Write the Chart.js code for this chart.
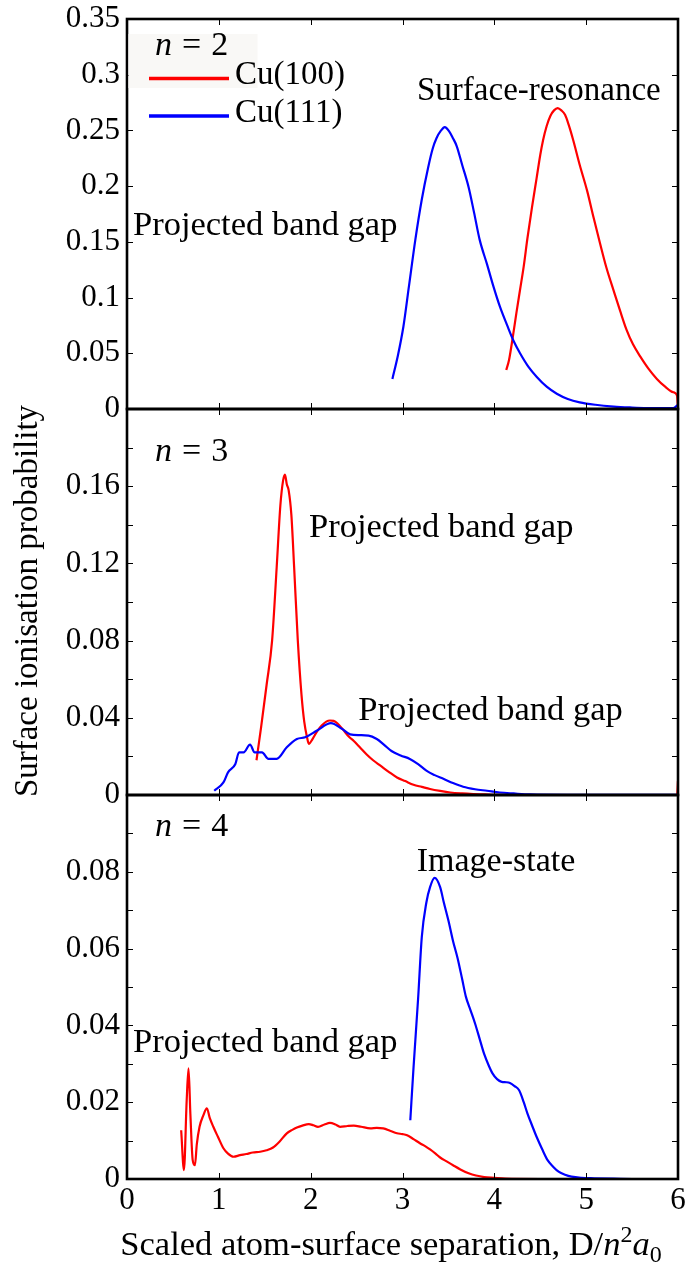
<!DOCTYPE html>
<html>
<head>
<meta charset="utf-8">
<script src="https://cdn.jsdelivr.net/npm/chart.js@4.4.1/dist/chart.umd.min.js"></script>
<style>
html, body { margin: 0; padding: 0; background: #fff; }
#wrap { position: relative; width: 689px; height: 1265px; overflow: hidden; background: #fff; }
canvas { position: absolute; left: 0; }
</style>
</head>
<body>
<div id="wrap">
  <canvas id="c1" width="689" height="425" style="top:0px"></canvas>
  <canvas id="c2" width="689" height="418" style="top:393px"></canvas>
  <canvas id="c3" width="689" height="486" style="top:779px"></canvas>
</div>
<script>
// ---------------- data ----------------
const xTickValues = [0, 1, 2, 3, 4, 5, 6];
const xTickLabels = ['0', '1', '2', '3', '4', '5', '6'];

const yTicks1  = [0, 0.05, 0.1, 0.15, 0.2, 0.25, 0.3, 0.35];
const yLabels1 = ['0', '0.05', '0.1', '0.15', '0.2', '0.25', '0.3', '0.35'];
const yMarks1  = [0, 0.05, 0.1, 0.15, 0.2, 0.25, 0.3, 0.35];

const yTicks2  = [0, 0.04, 0.08, 0.12, 0.16];
const yLabels2 = ['0', '0.04', '0.08', '0.12', '0.16'];
const yMarks2  = [0, 0.02, 0.04, 0.06, 0.08, 0.10, 0.12, 0.14, 0.16, 0.18, 0.20];

const yTicks3  = [0, 0.02, 0.04, 0.06, 0.08];
const yLabels3 = ['0', '0.02', '0.04', '0.06', '0.08'];
const yMarks3  = [0, 0.01, 0.02, 0.03, 0.04, 0.05, 0.06, 0.07, 0.08, 0.09, 0.10];

const seriesNames = ['Cu(100)', 'Cu(111)'];

// n = 2
const n2Cu111X = [2.89, 2.95, 3.01, 3.07, 3.14, 3.21, 3.28, 3.33, 3.37, 3.42, 3.46, 3.51, 3.55, 3.59, 3.65, 3.72, 3.78, 3.84, 3.92, 3.99, 4.06, 4.14, 4.21, 4.28, 4.37, 4.46, 4.57, 4.68, 4.80, 4.93, 5.10, 5.30, 5.50, 5.66, 5.80, 5.95, 6.0];
const n2Cu111Y = [0.027, 0.048, 0.074, 0.110, 0.152, 0.188, 0.217, 0.234, 0.243, 0.250, 0.253, 0.249, 0.243, 0.236, 0.219, 0.199, 0.176, 0.152, 0.130, 0.110, 0.092, 0.075, 0.061, 0.050, 0.038, 0.029, 0.020, 0.0137, 0.009, 0.006, 0.0038, 0.0022, 0.0013, 0.0008, 0.0007, 0.0007, 0.004];
const n2Cu100X = [4.13, 4.16, 4.20, 4.24, 4.28, 4.32, 4.36, 4.41, 4.46, 4.50, 4.53, 4.57, 4.61, 4.65, 4.69, 4.73, 4.77, 4.81, 4.86, 4.93, 5.01, 5.08, 5.15, 5.22, 5.30, 5.37, 5.44, 5.51, 5.59, 5.68, 5.77, 5.86, 5.95, 5.99, 6.0];
const n2Cu100Y = [0.035, 0.044, 0.064, 0.086, 0.107, 0.128, 0.153, 0.181, 0.207, 0.228, 0.241, 0.254, 0.263, 0.268, 0.270, 0.268, 0.264, 0.255, 0.241, 0.219, 0.196, 0.172, 0.149, 0.127, 0.106, 0.088, 0.071, 0.058, 0.047, 0.036, 0.027, 0.020, 0.015, 0.012, 0.0];

// n = 3
const n3Cu111X = [0.95, 1.05, 1.10, 1.18, 1.22, 1.27, 1.34, 1.39, 1.47, 1.54, 1.63, 1.74, 1.85, 1.94, 2.07, 2.22, 2.34, 2.43, 2.53, 2.63, 2.72, 2.80, 2.88, 2.98, 3.08, 3.17, 3.26, 3.35, 3.45, 3.55, 3.66, 3.79, 3.92, 4.06, 4.21, 4.39, 4.8, 5.4, 6.0];
const n3Cu111Y = [0.0022, 0.0065, 0.0117, 0.0161, 0.0221, 0.0221, 0.0261, 0.0221, 0.0221, 0.0187, 0.0187, 0.0247, 0.0290, 0.0299, 0.0334, 0.0372, 0.0343, 0.0314, 0.0310, 0.0308, 0.0290, 0.0260, 0.0228, 0.0205, 0.0187, 0.0160, 0.0126, 0.0103, 0.0083, 0.0062, 0.0043, 0.0030, 0.0022, 0.0013, 0.0008, 0.0003, 0.0001, 0.0001, 0.0001];
const n3Cu100X = [1.41, 1.46, 1.52, 1.58, 1.63, 1.67, 1.70, 1.72, 1.74, 1.76, 1.79, 1.82, 1.86, 1.90, 1.93, 1.96, 1.98, 2.02, 2.07, 2.12, 2.17, 2.21, 2.25, 2.29, 2.35, 2.42, 2.47, 2.54, 2.61, 2.68, 2.76, 2.85, 2.94, 3.03, 3.12, 3.21, 3.30, 3.41, 3.52, 3.65, 3.77, 3.90, 4.0, 4.5, 5.0, 5.5, 5.99, 6.0];
const n3Cu100Y = [0.018, 0.035, 0.057, 0.080, 0.118, 0.150, 0.163, 0.166, 0.161, 0.158, 0.145, 0.118, 0.080, 0.052, 0.038, 0.030, 0.0265, 0.029, 0.033, 0.036, 0.038, 0.0386, 0.0384, 0.0372, 0.034, 0.030, 0.028, 0.0245, 0.021, 0.018, 0.0152, 0.012, 0.0091, 0.0072, 0.0053, 0.0042, 0.0031, 0.0021, 0.0013, 0.0008, 0.0005, 0.0003, 0.0001, 0, 0, 0, 0, 0.0074];

// n = 4
const n4Cu111X = [3.085, 3.12, 3.17, 3.21, 3.26, 3.30, 3.35, 3.41, 3.45, 3.50, 3.55, 3.60, 3.65, 3.69, 3.74, 3.79, 3.84, 3.89, 3.94, 3.98, 4.03, 4.08, 4.13, 4.17, 4.22, 4.27, 4.32, 4.36, 4.41, 4.46, 4.52, 4.58, 4.64, 4.70, 4.77, 4.84, 4.95, 5.09, 5.3, 5.6, 6.0];
const n4Cu111Y = [0.0153, 0.029, 0.047, 0.063, 0.072, 0.076, 0.0784, 0.076, 0.072, 0.0673, 0.062, 0.0575, 0.052, 0.0475, 0.044, 0.0405, 0.0365, 0.0325, 0.0295, 0.0275, 0.026, 0.0253, 0.0252, 0.025, 0.0242, 0.0231, 0.0200, 0.0171, 0.014, 0.011, 0.0078, 0.0049, 0.0032, 0.0019, 0.0011, 0.0006, 0.0003, 0.0002, 0.0001, 0, 0];
const n4Cu100X = [0.59, 0.62, 0.65, 0.67, 0.69, 0.715, 0.74, 0.76, 0.79, 0.83, 0.87, 0.90, 0.94, 0.99, 1.05, 1.10, 1.16, 1.23, 1.30, 1.37, 1.45, 1.52, 1.59, 1.66, 1.74, 1.80, 1.85, 1.91, 1.98, 2.03, 2.08, 2.15, 2.21, 2.27, 2.32, 2.40, 2.47, 2.55, 2.65, 2.72, 2.79, 2.87, 2.94, 3.00, 3.05, 3.12, 3.19, 3.25, 3.30, 3.36, 3.41, 3.48, 3.55, 3.63, 3.72, 3.80, 3.89, 4.00, 4.12, 4.5, 5.0];
const n4Cu100Y = [0.0127, 0.0023, 0.0205, 0.0288, 0.017, 0.005, 0.0036, 0.009, 0.0136, 0.0165, 0.0184, 0.016, 0.0136, 0.011, 0.008, 0.0066, 0.0058, 0.0062, 0.0065, 0.0069, 0.0071, 0.0075, 0.0082, 0.0097, 0.0119, 0.0128, 0.0134, 0.0139, 0.0143, 0.014, 0.0136, 0.0142, 0.0146, 0.0142, 0.0136, 0.0138, 0.0139, 0.0136, 0.0132, 0.0133, 0.0132, 0.0125, 0.0119, 0.0117, 0.0114, 0.0104, 0.0093, 0.0085, 0.0077, 0.0066, 0.0056, 0.0046, 0.0036, 0.0025, 0.0015, 0.0009, 0.0005, 0.0003, 0.0001, 0, 0];

// ---------------- styling / layout ----------------
const FONT = "'Liberation Serif', 'Times New Roman', serif";
const RED = '#ff0000';
const BLUE = '#0000ff';

const panels = [
  { id: 'c1', label: '2', yMax: 0.35, yTicks: yTicks1, yLabels: yLabels1, yMarks: yMarks1,
    padding: { top: 19, bottom: 16, left: 0, right: 11 },
    red: [n2Cu100X, n2Cu100Y], blue: [n2Cu111X, n2Cu111Y],
    nPos: [0.305, 0.318],
    notes: [ { t: 'Projected band gap', x: 0.065, y: 0.156, s: 34.5 }, { t: 'Surface-resonance', x: 3.158, y: 0.277, s: 33 } ],
    legend: true },
  { id: 'c2', label: '3', yMax: 0.2, yTicks: yTicks2, yLabels: yLabels2, yMarks: yMarks2,
    padding: { top: 16, bottom: 16, left: 0, right: 11 },
    red: [n3Cu100X, n3Cu100Y], blue: [n3Cu111X, n3Cu111Y],
    nPos: [0.305, 0.1731],
    notes: [ { t: 'Projected band gap', x: 1.982, y: 0.1337, s: 34.5 }, { t: 'Projected band gap', x: 2.519, y: 0.0389, s: 34.5 } ],
    yTitle: 'Surface ionisation probability' },
  { id: 'c3', label: '4', yMax: 0.1, yTicks: yTicks3, yLabels: yLabels3, yMarks: yMarks3,
    padding: { top: 16, bottom: 0, left: 0, right: 11 },
    red: [n4Cu100X, n4Cu100Y], blue: [n4Cu111X, n4Cu111Y],
    nPos: [0.305, 0.0894],
    notes: [ { t: 'Image-state', x: 3.155, y: 0.0803, s: 34 }, { t: 'Projected band gap', x: 0.065, y: 0.0331, s: 34.5 } ],
    xAxis: true }
];

function segFont(s, size) {
  const small = (s.k === 'sup' || s.k === 'sub');
  const sz = small ? Math.round(size * 0.7) : size;
  return (s.k === 'i' ? 'italic ' : '') + sz + 'px ' + FONT;
}
function segWidth(ctx, s, size) {
  if (s.gap) return s.gap;
  ctx.font = segFont(s, size);
  return ctx.measureText(s.t).width;
}
function richWidth(ctx, segs, size) {
  return segs.reduce((w, s) => w + segWidth(ctx, s, size), 0);
}
function drawRich(ctx, segs, x, y, size) {
  let cx = x;
  segs.forEach(s => {
    if (!s.gap) {
      ctx.font = segFont(s, size);
      const dy = s.k === 'sup' ? -size * 0.38 : (s.k === 'sub' ? size * 0.2 : 0);
      ctx.fillText(s.t, cx, y + dy);
    }
    cx += segWidth(ctx, s, size);
  });
}

const decor = {
  id: 'decor',
  afterDraw(chart) {
    const p = panels[chart.options.plugins.decor.idx];
    const { ctx, chartArea: a, scales } = chart;
    const xs = scales.x, ys = scales.y;
    ctx.save();
    // inward tick marks on all four sides
    ctx.strokeStyle = '#000';
    ctx.lineWidth = 1;
    const L = 6;
    ctx.beginPath();
    xTickValues.forEach(v => {
      const px = Math.round(xs.getPixelForValue(v)) + 0.5;
      ctx.moveTo(px, a.bottom); ctx.lineTo(px, a.bottom - L);
      ctx.moveTo(px, a.top); ctx.lineTo(px, a.top + L);
    });
    p.yMarks.forEach(v => {
      const py = Math.round(ys.getPixelForValue(v)) + 0.5;
      ctx.moveTo(a.left, py); ctx.lineTo(a.left + L, py);
      ctx.moveTo(a.right, py); ctx.lineTo(a.right - L, py);
    });
    ctx.stroke();
    // frame
    ctx.lineWidth = 2.6;
    ctx.strokeRect(a.left, a.top, a.right - a.left, a.bottom - a.top);

    ctx.fillStyle = '#000';
    ctx.textAlign = 'left';
    ctx.textBaseline = 'alphabetic';

    // legend
    if (p.legend) {
      ctx.fillStyle = '#f9f8f6';
      ctx.fillRect(a.left + 1.5, a.top + 15, 129, 54);
      ctx.lineWidth = 3.5;
      ctx.strokeStyle = RED;
      ctx.beginPath(); ctx.moveTo(a.left + 22, a.top + 59.5); ctx.lineTo(a.left + 102, a.top + 59.5); ctx.stroke();
      ctx.strokeStyle = BLUE;
      ctx.beginPath(); ctx.moveTo(a.left + 22, a.top + 97); ctx.lineTo(a.left + 102, a.top + 97); ctx.stroke();
      ctx.fillStyle = '#000';
      ctx.font = '33px ' + FONT;
      ctx.fillText(seriesNames[0], a.left + 108, a.top + 64.5);
      ctx.fillText(seriesNames[1], a.left + 108, a.top + 103);
    }

    // n = k
    drawRich(ctx, [{ t: 'n', k: 'i' }, { gap: 10 }, { t: '=', k: 'r' }, { gap: 10 }, { t: p.label, k: 'r' }],
      xs.getPixelForValue(p.nPos[0]), ys.getPixelForValue(p.nPos[1]), 34);

    // annotations
    p.notes.forEach(n => {
      ctx.font = n.s + 'px ' + FONT;
      ctx.fillText(n.t, xs.getPixelForValue(n.x), ys.getPixelForValue(n.y));
    });

    // y-axis title
    if (p.yTitle) {
      ctx.save();
      ctx.translate(37, (a.top + a.bottom) / 2 - 1);
      ctx.rotate(-Math.PI / 2);
      ctx.textAlign = 'center';
      ctx.font = '33px ' + FONT;
      ctx.fillText(p.yTitle, 0, 0);
      ctx.restore();
    }

    // x-axis title
    if (p.xAxis) {
      const segs = [
        { t: 'Scaled atom-surface separation, D/', k: 'r' },
        { t: 'n', k: 'i' }, { t: '2', k: 'sup' }, { t: 'a', k: 'i' }, { t: '0', k: 'sub' }
      ];
      const w = richWidth(ctx, segs, 34.5);
      drawRich(ctx, segs, 391 - w / 2, a.bottom + 76, 34.5);
    }
    ctx.restore();
  }
};

function mk(xArr, yArr) { return xArr.map((x, i) => ({ x: x, y: yArr[i] })); }

panels.forEach((p, idx) => {
  const xScale = p.xAxis ? {
    type: 'linear', min: 0, max: 6,
    afterBuildTicks: s => { s.ticks = xTickValues.map(v => ({ value: v })); },
    afterFit: s => { s.height = 86; s.paddingLeft = 0; s.paddingRight = 0; },
    grid: { display: false, drawTicks: false },
    border: { display: false },
    ticks: { autoSkip: false, maxRotation: 0, padding: 6, color: '#000',
             font: { family: FONT, size: 31, lineHeight: 1 },
             callback: (v, i) => xTickLabels[i] }
  } : { type: 'linear', min: 0, max: 6, display: false };

  new Chart(document.getElementById(p.id), {
    type: 'line',
    data: {
      datasets: [
        { label: seriesNames[1], data: mk(p.blue[0], p.blue[1]), borderColor: BLUE },
        { label: seriesNames[0], data: mk(p.red[0], p.red[1]), borderColor: RED }
      ]
    },
    options: {
      responsive: false, animation: false, devicePixelRatio: 1, events: [],
      layout: { padding: p.padding },
      elements: {
        line: { borderWidth: 2.2, cubicInterpolationMode: 'monotone', fill: false },
        point: { radius: 0 }
      },
      plugins: { legend: { display: false }, tooltip: { enabled: false }, decor: { idx: idx } },
      scales: {
        x: xScale,
        y: {
          type: 'linear', min: 0, max: p.yMax,
          afterBuildTicks: s => { s.ticks = p.yTicks.map(v => ({ value: v })); },
          afterFit: s => { s.width = 127; s.paddingTop = 0; s.paddingBottom = 0; },
          grid: { display: false, drawTicks: false },
          border: { display: false },
          ticks: { autoSkip: false, padding: 7, color: '#000',
                   font: { family: FONT, size: 31, lineHeight: 1 },
                   callback: (v, i) => p.yLabels[i] }
        }
      }
    },
    plugins: [decor]
  });
});
</script>
</body>
</html>
